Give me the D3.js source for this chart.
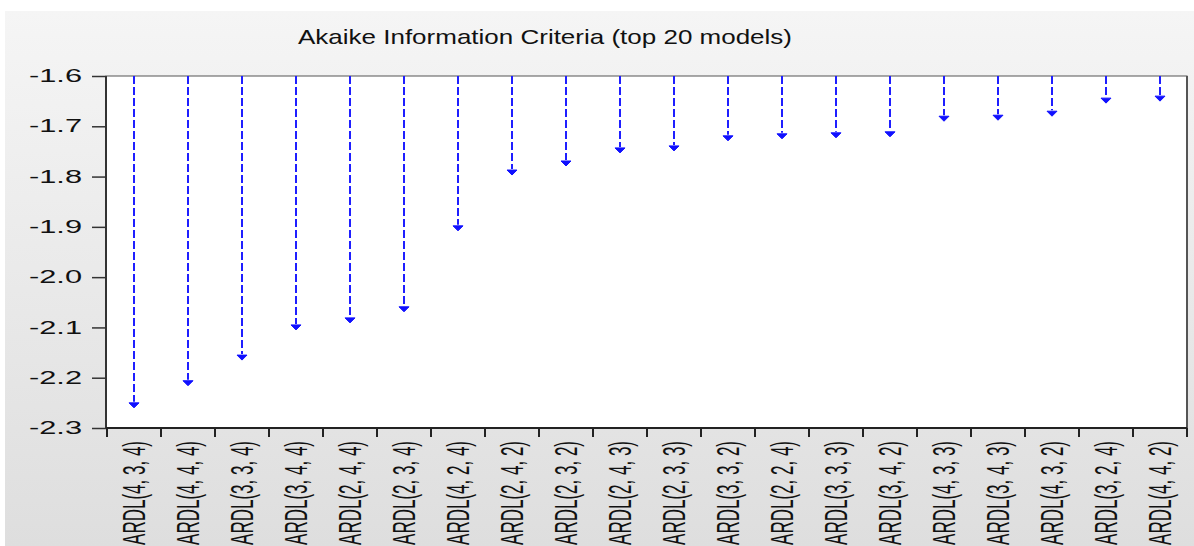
<!DOCTYPE html>
<html lang="en">
<head>
<title>Akaike Information Criteria</title>
<meta charset="utf-8">
<script src="https://d3js.org/d3.v7.min.js"></script>
<style>
	body { margin: 0; background: #fff; }
	text { font-family: "Liberation Sans", Arial, sans-serif; fill: #111; }
</style>
</head>
<body>
<div id="chart"></div>
<script>
	// models, ordered as in the chart
	var models = ["ARDL(4, 3, 4)", "ARDL(4, 4, 4)", "ARDL(3, 3, 4)", "ARDL(3, 4, 4)", "ARDL(2, 4, 4)",
		"ARDL(2, 3, 4)", "ARDL(4, 2, 4)", "ARDL(2, 4, 2)", "ARDL(2, 3, 2)", "ARDL(2, 4, 3)",
		"ARDL(2, 3, 3)", "ARDL(3, 3, 2)", "ARDL(2, 2, 4)", "ARDL(3, 3, 3)", "ARDL(3, 4, 2)",
		"ARDL(4, 3, 3)", "ARDL(3, 4, 3)", "ARDL(4, 3, 2)", "ARDL(3, 2, 4)", "ARDL(4, 4, 2)"];
	var aic = [-2.254, -2.210, -2.159, -2.099, -2.085, -2.063, -1.902, -1.791, -1.773, -1.747,
		-1.743, -1.723, -1.719, -1.717, -1.715, -1.684, -1.682, -1.674, -1.648, -1.644];
	var yTicks = [-1.6, -1.7, -1.8, -1.9, -2.0, -2.1, -2.2, -2.3];
	var title = "Akaike Information Criteria (top 20 models)";

	var W = 1194, H = 546;
	var plotL = 106, plotR = 1187, plotT = 76, plotB = 428;

	var svg = d3.select("#chart").append("svg")
		.attr("width", W)
		.attr("height", H);

	var grad = svg.append("defs").append("linearGradient")
		.attr("id", "bg").attr("x1", 0).attr("y1", 0).attr("x2", 0).attr("y2", 1);
	grad.append("stop").attr("offset", "0%").attr("stop-color", "#f5f5f5");
	grad.append("stop").attr("offset", "100%").attr("stop-color", "#dedede");

	svg.append("rect")
		.attr("x", 5).attr("y", 11)
		.attr("width", W - 5).attr("height", H - 11)
		.attr("fill", "url(#bg)");

	var x = d3.scaleBand()
		.domain(models)
		.range([plotL + 1, plotR]);
	var y = d3.scaleLinear()
		.domain([-2.3, -1.6])
		.range([plotB, plotT]);

	// plot box
	svg.append("rect")
		.attr("x", plotL).attr("y", plotT)
		.attr("width", plotR - plotL).attr("height", plotB - plotT)
		.attr("fill", "#fff")
		.attr("stroke", "#555")
		.attr("stroke-width", 1);
	svg.append("line")
		.attr("x1", plotL).attr("x2", plotL).attr("y1", plotT).attr("y2", plotB)
		.attr("stroke", "#333").attr("stroke-width", 2);
	svg.append("line")
		.attr("x1", plotR).attr("x2", plotR).attr("y1", plotT).attr("y2", plotB)
		.attr("stroke", "#555").attr("stroke-width", 2);
	svg.append("line")
		.attr("x1", plotL).attr("x2", plotR).attr("y1", plotB).attr("y2", plotB)
		.attr("stroke", "#222").attr("stroke-width", 2);

	svg.append("text")
		.attr("x", 545).attr("y", 44)
		.attr("text-anchor", "middle")
		.attr("font-size", 21)
		.attr("textLength", 494)
		.attr("lengthAdjust", "spacingAndGlyphs")
		.text(title);

	// y axis
	var yAxis = d3.axisLeft(y)
		.tickValues(yTicks)
		.tickSize(14)
		.tickPadding(10)
		.tickFormat(d3.format(".1f"));
	var gy = svg.append("g")
		.attr("transform", "translate(" + plotL + ",0)")
		.call(yAxis);
	gy.select(".domain").remove();
	gy.selectAll(".tick line").attr("stroke", "#333").attr("stroke-width", 1.5);
	gy.selectAll(".tick text")
		.attr("font-size", 17.5)
		.attr("font-family", "Liberation Sans, Arial, sans-serif")
		.attr("fill", "#111")
		.attr("textLength", 53)
		.attr("lengthAdjust", "spacingAndGlyphs")
		.attr("x", -24)
		.text(function(d) { return d3.format(".1f")(d).replace("−", "-"); });

	// x ticks at category boundaries
	var bounds = models.map(function(d) { return x(d); }).concat([x.range()[1]]);
	svg.append("g").selectAll("line")
		.data(bounds)
		.enter()
		.append("line")
		.attr("x1", function(d) { return d; })
		.attr("x2", function(d) { return d; })
		.attr("y1", plotB)
		.attr("y2", plotB + 9)
		.attr("stroke", "#222")
		.attr("stroke-width", 2);

	svg.append("g").selectAll("text")
		.data(models)
		.enter()
		.append("text")
		.attr("transform", function(d) {
			return "translate(" + (x(d) + x.bandwidth() / 2) + ",441) scale(1.8,1) rotate(-90)";
		})
		.attr("text-anchor", "end")
		.attr("dy", "0.36em")
		.attr("font-size", 17)
		.text(function(d) { return d; });

	// dashed stems with arrow heads
	var data = models.map(function(m, i) { return {m: m, v: aic[i]}; });
	svg.append("g").selectAll("line")
		.data(data)
		.enter()
		.append("line")
		.attr("x1", function(d) { return x(d.m) + x.bandwidth() / 2; })
		.attr("x2", function(d) { return x(d.m) + x.bandwidth() / 2; })
		.attr("y1", y(-1.6))
		.attr("y2", function(d) { return y(d.v) - 3; })
		.attr("stroke", "#1f1fff")
		.attr("stroke-width", 2)
		.attr("stroke-dasharray", "8,3");

	svg.append("g").selectAll("path")
		.data(data)
		.enter()
		.append("path")
		.attr("transform", function(d) {
			return "translate(" + (x(d.m) + x.bandwidth() / 2) + "," + y(d.v) + ")";
		})
		.attr("d", "M-5,-2 L5,-2 L0,3 Z")
		.attr("fill", "#1010ff")
		.attr("stroke", "#1010ff")
		.attr("stroke-width", 1);
</script>
</body>
</html>
